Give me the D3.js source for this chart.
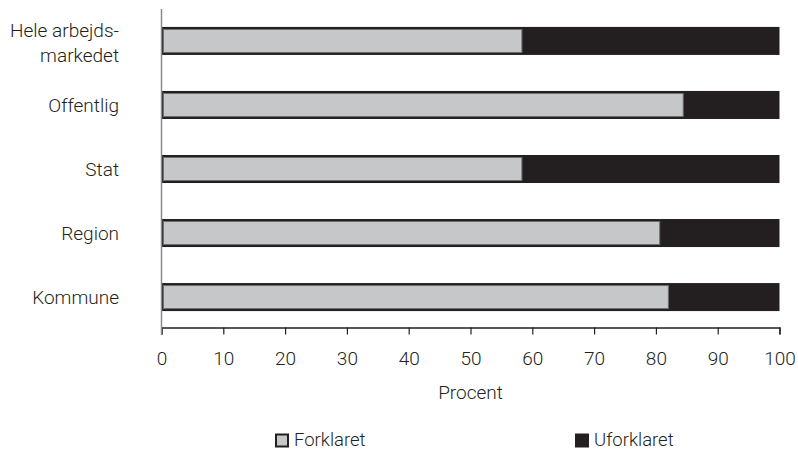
<!DOCTYPE html>
<html><head><meta charset="utf-8">
<script src="https://cdn.jsdelivr.net/npm/d3@7/dist/d3.min.js"></script>
<style>body{margin:0;background:#fff}svg{display:block;font-family:Roboto,"Open Sans",sans-serif;font-weight:300}</style>
</head><body><svg id="c" width="798" height="451"></svg>
<script>
const categories = [["Hele arbejds-","markedet"],["Offentlig"],["Stat"],["Region"],["Kommune"]];
const forklaret = [58.4, 84.5, 58.4, 80.7, 82.1];
const uforklaret = forklaret.map(v => 100 - v);
const xTicks = [0,10,20,30,40,50,60,70,80,90,100];
const seriesNames = ["Forklaret","Uforklaret"];
const colors = ["#c6c7c8","#231f20"];

const svg = d3.select("#c");
const x = d3.scaleLinear().domain([0,100]).range([161.5,779.5]);
const y = d3.scaleBand().domain(d3.range(categories.length)).range([9,329]).paddingInner(0.5625).paddingOuter(0.28);

const g = svg.append("g");
categories.forEach((c,i)=>{
  const y0 = y(i), h = y.bandwidth();
  g.append("rect").attr("x",x(0)).attr("y",y0).attr("width",x(100)-x(0)).attr("height",h).attr("fill",colors[1]);
  g.append("rect").attr("x",x(0)+2).attr("y",y0+2.5).attr("width",x(forklaret[i])-x(0)-2.5).attr("height",h-5)
   .attr("fill",colors[0]).attr("stroke","#6d6e70").attr("stroke-width",1);
  const cy = y0 + h/2;
  const t = g.append("text").attr("text-anchor","end").attr("font-size",19).attr("fill","#231f20");
  c.forEach((line,j)=>{
    const base = c.length > 1 ? cy - 4 + j*25 : cy + 7;
    t.append("tspan").attr("x",119).attr("y", base).text(line);
  });
});

const xa = svg.append("g").attr("transform","translate(0,327.5)")
  .call(d3.axisBottom(x).tickValues(xTicks).tickSize(7).tickPadding(0).tickFormat(d3.format("d")));
xa.select(".domain").attr("stroke","#231f20").attr("stroke-width",1.3);
xa.selectAll(".tick line").attr("stroke","#231f20").attr("stroke-width",1.2);
xa.selectAll("text").attr("dy",null).attr("y",37).attr("font-size",19).attr("font-family","Roboto").attr("font-weight",300).attr("fill","#231f20");

svg.append("line").attr("x1",x(0)).attr("x2",x(0)).attr("y1",9).attr("y2",335).attr("stroke","#8a8a8a").attr("stroke-width",1.5);

svg.append("text").attr("x",(x(0)+x(100))/2).attr("y",399).attr("text-anchor","middle").attr("font-size",19).attr("fill","#231f20").text("Procent");

const legX = [275, 575];
seriesNames.forEach((n,i)=>{
  svg.append("rect").attr("x",legX[i]+1).attr("y",434.5).attr("width",12).attr("height",12)
    .attr("fill",colors[i]).attr("stroke","#231f20").attr("stroke-width",2);
  svg.append("text").attr("x",legX[i]+19).attr("y",446).attr("font-size",18.5).attr("fill","#231f20").text(n);
});
</script></body></html>
